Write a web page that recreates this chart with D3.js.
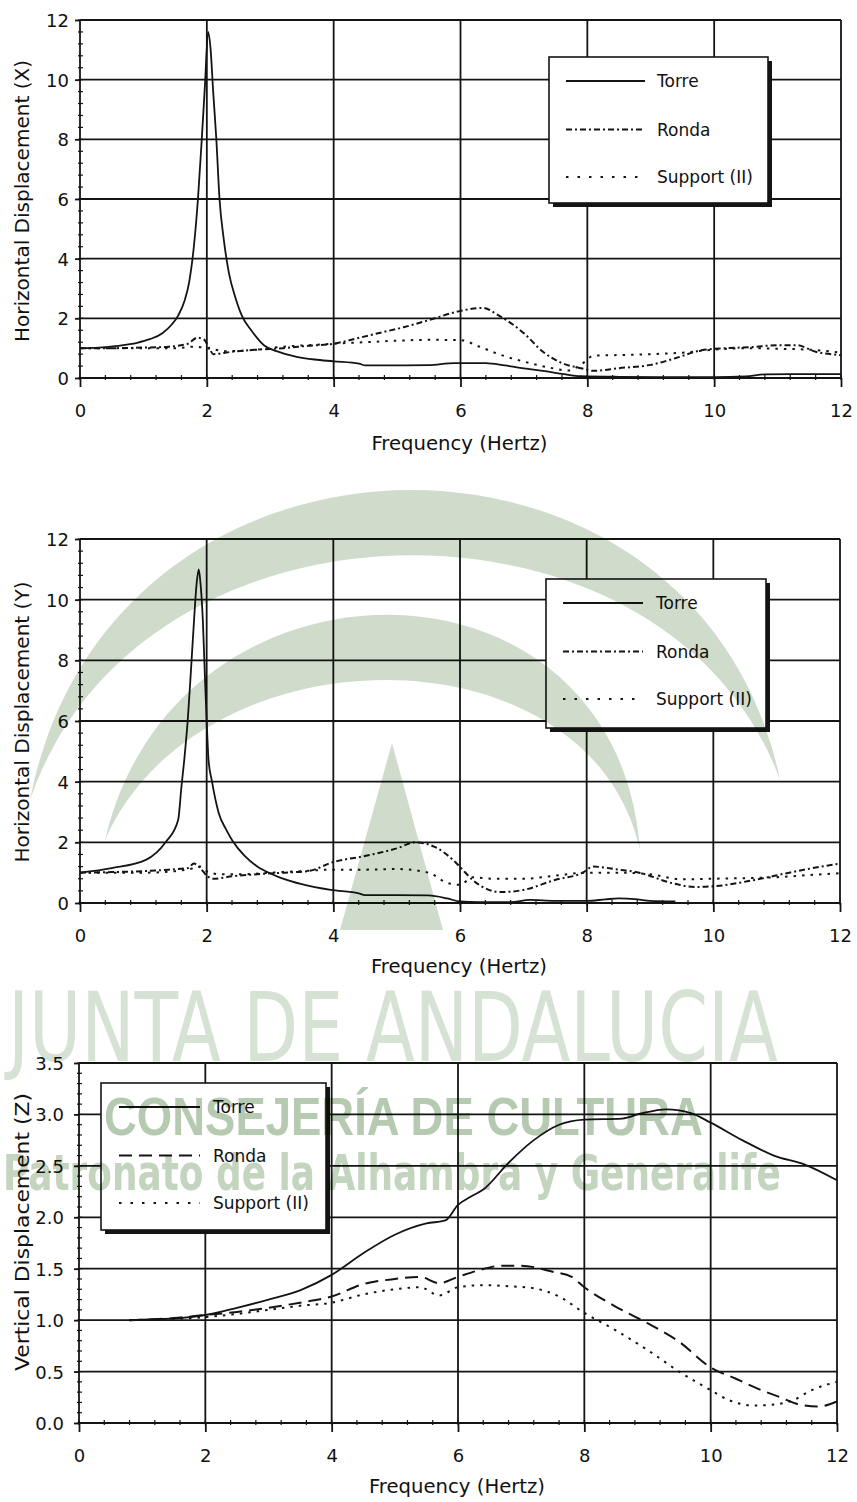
<!DOCTYPE html>
<html>
<head>
<meta charset="utf-8">
<script src="https://cdn.jsdelivr.net/npm/d3@7"></script>
<style>
  html, body { margin: 0; padding: 0; background: #fff; }
  svg { display: block; }
  text { font-family: "DejaVu Sans", "Liberation Sans", sans-serif; fill: #111; }
</style>
</head>
<body>
<svg id="fig" width="857" height="1502"></svg>
<script>
// ---- Frequency response, horizontal X direction ----
const xTorreHz   = [0, 0.3, 0.6, 0.9, 1.1, 1.3, 1.45, 1.55, 1.65, 1.72, 1.8, 1.86, 1.92, 1.97, 2.02, 2.06, 2.1, 2.15, 2.2, 2.27, 2.35, 2.45, 2.55, 2.7, 2.9, 3.1, 3.4, 3.7, 4.0, 4.4, 4.5, 5.0, 5.5, 5.9, 6.4, 6.7, 7.0, 7.3, 7.6, 7.9, 8.5, 9.5, 10.0, 10.5, 10.8, 11.2, 12.0];
const xTorreAmp  = [1.0, 1.02, 1.08, 1.18, 1.3, 1.5, 1.8, 2.1, 2.6, 3.2, 4.5, 6.0, 8.0, 9.8, 11.6, 11.0, 9.6, 8.0, 6.0, 4.6, 3.5, 2.7, 2.1, 1.6, 1.1, 0.9, 0.72, 0.62, 0.56, 0.48, 0.42, 0.42, 0.43, 0.5, 0.5, 0.42, 0.32, 0.24, 0.14, 0.06, 0.04, 0.03, 0.03, 0.05, 0.12, 0.13, 0.13];
const xRondaHz   = [0, 0.5, 1.0, 1.4, 1.7, 1.85, 1.95, 2.05, 2.1, 2.4, 2.8, 3.2, 3.6, 4.0, 4.35, 4.7, 5.1, 5.5, 6.0, 6.35, 6.6, 7.0, 7.3, 7.6, 7.9, 8.1, 8.5, 9.0, 9.4, 9.8, 10.2, 10.6, 11.0, 11.3, 11.6, 12.0];
const xRondaAmp  = [1.0, 1.0, 1.02, 1.05, 1.15, 1.35, 1.3, 0.95, 0.8, 0.88, 0.95, 1.0, 1.08, 1.15, 1.32, 1.5, 1.7, 1.94, 2.25, 2.35, 2.1, 1.5, 0.88, 0.5, 0.33, 0.24, 0.33, 0.44, 0.67, 0.93, 1.0, 1.04, 1.1, 1.1, 0.88, 0.77];
const xSupportHz  = [0, 0.5, 1.0, 1.5, 1.8, 2.0, 2.3, 2.8, 3.2, 3.6, 4.0, 4.5, 5.0, 5.5, 6.0, 6.3, 6.6, 7.0, 7.4, 7.7, 7.9, 8.1, 8.5, 9.0, 9.5, 10.0, 10.5, 11.0, 11.5, 12.0];
const xSupportAmp = [1.0, 1.0, 1.0, 1.0, 1.05, 1.0, 0.9, 0.95, 1.05, 1.1, 1.15, 1.2, 1.25, 1.28, 1.27, 1.05, 0.8, 0.55, 0.35, 0.25, 0.45, 0.75, 0.77, 0.8, 0.85, 0.95, 1.0, 0.98, 0.95, 0.85];

// ---- Frequency response, horizontal Y direction ----
const yTorreHz   = [0, 0.5, 1.04, 1.35, 1.55, 1.6, 1.65, 1.7, 1.75, 1.8, 1.84, 1.875, 1.9, 1.94, 1.97, 2.0, 2.03, 2.08, 2.19, 2.3, 2.4, 2.6, 2.81, 3.0, 3.18, 3.5, 3.96, 4.4, 4.5, 5.0, 5.5, 5.8, 6.0, 6.3, 6.8, 7.1, 7.5, 8.0, 8.3, 8.5, 8.8, 9.0, 9.4];
const yTorreAmp  = [1.0, 1.15, 1.42, 2.0, 2.74, 3.8, 4.8, 6.0, 7.6, 9.3, 10.5, 11.0, 10.6, 9.3, 7.6, 6.0, 4.7, 4.05, 2.97, 2.45, 2.08, 1.55, 1.19, 0.98, 0.82, 0.62, 0.43, 0.32, 0.26, 0.26, 0.25, 0.15, 0.05, 0.03, 0.03, 0.1, 0.07, 0.07, 0.12, 0.15, 0.12, 0.07, 0.05];
const yRondaHz   = [0, 0.5, 1.0, 1.4, 1.7, 1.8, 1.9, 2.0, 2.1, 2.4, 2.8, 3.2, 3.6, 4.0, 4.5, 5.0, 5.3, 5.6, 5.9, 6.0, 6.2, 6.64, 7.0, 7.5, 7.94, 8.1, 8.5, 8.83, 9.34, 9.7, 10.0, 10.65, 11.2, 11.7, 12.0];
const yRondaAmp  = [1.0, 1.02, 1.05, 1.1, 1.15, 1.3, 1.15, 0.9, 0.8, 0.88, 0.95, 1.0, 1.05, 1.35, 1.55, 1.8, 2.0, 1.85, 1.4, 1.19, 0.76, 0.36, 0.43, 0.76, 1.0, 1.2, 1.1, 1.0, 0.66, 0.53, 0.55, 0.76, 1.0, 1.2, 1.3];
const ySupportHz  = [0, 0.5, 1.0, 1.5, 1.8, 1.9, 2.0, 2.2, 2.6, 3.0, 3.5, 4.0, 4.5, 5.0, 5.5, 5.8, 6.0, 6.2, 6.5, 7.0, 7.5, 8.0, 8.5, 9.0, 9.5, 10.0, 10.5, 11.0, 11.5, 12.0];
const ySupportAmp = [1.0, 1.0, 1.0, 1.05, 1.15, 1.2, 1.05, 0.95, 0.95, 1.0, 1.05, 1.1, 1.1, 1.12, 1.0, 0.66, 0.6, 0.85, 0.8, 0.8, 0.9, 1.0, 1.0, 0.95, 0.78, 0.8, 0.82, 0.85, 0.92, 0.98];

// ---- Frequency response, vertical Z direction ----
const zTorreHz   = [0.8, 1.2, 1.6, 2.0, 2.5, 3.0, 3.5, 4.0, 4.5, 5.0, 5.5, 5.8, 6.0, 6.2, 6.4, 6.8, 7.2, 7.6, 8.0, 8.6, 8.9, 9.3, 9.7, 10.0, 10.5, 11.0, 11.5, 12.0];
const zTorreAmp  = [1.0, 1.01, 1.02, 1.05, 1.12, 1.2, 1.29, 1.44, 1.65, 1.83, 1.94, 1.97, 2.12, 2.2, 2.27, 2.53, 2.75, 2.9, 2.95, 2.96, 3.01, 3.05, 3.01, 2.92, 2.75, 2.6, 2.51, 2.36];
const zRondaHz   = [0.8, 1.5, 2.0, 2.5, 3.0, 3.5, 4.0, 4.5, 5.0, 5.4, 5.7, 6.0, 6.3, 6.7, 7.0, 7.5, 7.8, 8.0, 8.5, 9.0, 9.5, 10.0, 10.4, 10.8, 11.1, 11.4, 11.7, 12.0];
const zRondaAmp  = [1.0, 1.02, 1.05, 1.08, 1.12, 1.17, 1.23, 1.35, 1.4, 1.42, 1.36, 1.42, 1.48, 1.53, 1.53, 1.47, 1.42, 1.32, 1.13, 0.97, 0.79, 0.54, 0.43, 0.32, 0.25, 0.18, 0.16, 0.21];
const zSupportHz  = [0.8, 1.5, 2.0, 2.5, 3.0, 3.5, 4.0, 4.5, 5.0, 5.4, 5.7, 6.0, 6.4, 6.8, 7.2, 7.6, 8.0, 8.5, 9.0, 9.5, 10.0, 10.3, 10.7, 11.0, 11.3, 11.6, 12.0];
const zSupportAmp = [1.0, 1.01, 1.03, 1.06, 1.1, 1.14, 1.17, 1.25, 1.3, 1.32, 1.24, 1.32, 1.34, 1.33, 1.31, 1.23, 1.07, 0.9, 0.71, 0.5, 0.32, 0.22, 0.17, 0.18, 0.22, 0.32, 0.4];

// ---- Axis ticks and labels ----
const hzTicks = [0, 2, 4, 6, 8, 10, 12];
const horizTicks = [0, 2, 4, 6, 8, 10, 12];
const vertTicks = [0, 0.5, 1.0, 1.5, 2.0, 2.5, 3.0, 3.5];
const vertTickLabels = ["0.0", "0.5", "1.0", "1.5", "2.0", "2.5", "3.0", "3.5"];
const seriesNames = ["Torre", "Ronda", "Support (II)"];
const freqTitle = "Frequency (Hertz)";
const panelTitles = ["Horizontal Displacement (X)", "Horizontal Displacement (Y)", "Vertical Displacement (Z)"];

// ---- Background emblem text ----
const emblemLines = ["JUNTA DE ANDALUCIA", "CONSEJERÍA DE CULTURA", "Patronato de la Alhambra y Generalife"];

const svg = d3.select("#fig");
svg.append("rect").attr("width", 857).attr("height", 1502).attr("fill", "#fff");

const INK = "#141414";

const panels = [
  { left: 80, right: 841, top: 20, bottom: 378, yMax: 12, ticks: horizTicks, fmt: d => String(d),
    labelGap: 11, title: panelTitles[0], titleY: 201, titleLen: 282, xTitleOff: 72,
    minorY: 0.4, rondaDash: "6,3,2,3",
    series: [[xTorreHz, xTorreAmp], [xRondaHz, xRondaAmp], [xSupportHz, xSupportAmp]],
    legend: { x: 549, y: 57, w: 219, h: 146, l0: 17, l1: 96, tx: 108 } },
  { left: 80, right: 840, top: 539, bottom: 903, yMax: 12, ticks: horizTicks, fmt: d => String(d),
    labelGap: 11, title: panelTitles[1], titleY: 722, titleLen: 281, xTitleOff: 70,
    minorY: 0.4, rondaDash: "6,3,2,3",
    series: [[yTorreHz, yTorreAmp], [yRondaHz, yRondaAmp], [ySupportHz, ySupportAmp]],
    legend: { x: 546, y: 579, w: 220, h: 149, l0: 17, l1: 97, tx: 110 } },
  { left: 79, right: 837, top: 1063, bottom: 1423, yMax: 3.5, ticks: vertTicks, fmt: (d, i) => vertTickLabels[i],
    labelGap: 15, title: panelTitles[2], titleY: 1232, titleLen: 278, xTitleOff: 70,
    minorY: 0.1, rondaDash: "13,7",
    series: [[zTorreHz, zTorreAmp], [zRondaHz, zRondaAmp], [zSupportHz, zSupportAmp]],
    legend: { x: 101, y: 1083, w: 225, h: 147, l0: 18, l1: 99, tx: 112 } }
];

function drawPanel(p) {
  const g = svg.append("g");
  const x = d3.scaleLinear().domain([0, 12]).range([p.left, p.right]);
  const y = d3.scaleLinear().domain([0, p.yMax]).range([p.bottom, p.top]);

  // grid: vertical at each frequency tick, horizontal at each displacement tick
  g.append("g").selectAll("line").data(hzTicks).join("line")
    .attr("x1", d => x(d)).attr("x2", d => x(d))
    .attr("y1", p.top).attr("y2", p.bottom)
    .attr("stroke", INK).attr("stroke-width", 1.8);
  g.append("g").selectAll("line").data(p.ticks).join("line")
    .attr("x1", p.left).attr("x2", p.right)
    .attr("y1", d => y(d)).attr("y2", d => y(d))
    .attr("stroke", INK).attr("stroke-width", 1.8);

  // minor ticks along the left and bottom axes
  const minorHz = d3.range(0, 12.0001, 0.4);
  g.append("g").selectAll("line").data(minorHz).join("line")
    .attr("x1", d => x(d)).attr("x2", d => x(d))
    .attr("y1", p.bottom - 3).attr("y2", p.bottom + 2)
    .attr("stroke", INK).attr("stroke-width", 1.2);
  const minorDisp = d3.range(0, p.yMax + 1e-6, p.minorY);
  g.append("g").selectAll("line").data(minorDisp).join("line")
    .attr("x1", p.left - 2).attr("x2", p.left + 3)
    .attr("y1", d => y(d)).attr("y2", d => y(d))
    .attr("stroke", INK).attr("stroke-width", 1.2);

  // bottom axis: outward ticks and labels
  const ax = g.append("g").attr("transform", `translate(0,${p.bottom})`)
    .call(d3.axisBottom(x).tickValues(hzTicks).tickSize(9).tickSizeOuter(0));
  ax.select(".domain").remove();
  ax.selectAll(".tick line").attr("stroke", INK).attr("stroke-width", 1.8);
  ax.selectAll(".tick text").attr("y", 39).attr("dy", null)
    .attr("font-size", 18).attr("fill", INK)
    .style("font-family", '"DejaVu Sans", sans-serif');

  // left axis
  const ay = g.append("g").attr("transform", `translate(${p.left},0)`)
    .call(d3.axisLeft(y).tickValues(p.ticks).tickFormat(p.fmt).tickSize(5).tickSizeOuter(0));
  ay.select(".domain").remove();
  ay.selectAll(".tick line").attr("stroke", INK).attr("stroke-width", 1.8);
  ay.selectAll(".tick text").attr("x", -p.labelGap).attr("dy", "0.36em")
    .attr("font-size", 18).attr("fill", INK)
    .style("font-family", '"DejaVu Sans", sans-serif');

  // axis titles
  g.append("text")
    .attr("x", (p.left + p.right) / 2 - 1).attr("y", p.bottom + p.xTitleOff)
    .attr("text-anchor", "middle").attr("font-size", 19)
    .attr("textLength", 176).attr("lengthAdjust", "spacingAndGlyphs")
    .text(freqTitle);
  g.append("text")
    .attr("transform", `translate(29,${p.titleY}) rotate(-90)`)
    .attr("text-anchor", "middle").attr("font-size", 19)
    .attr("textLength", p.titleLen).attr("lengthAdjust", "spacingAndGlyphs")
    .text(p.title);

  // response curves
  const dashes = [null, p.rondaDash, "2.5,6"];
  const line = d3.line().x(d => x(d[0])).y(d => y(d[1])).curve(d3.curveMonotoneX);
  p.series.forEach((s, i) => {
    const pts = s[0].map((hz, k) => [hz, s[1][k]]);
    g.append("path").datum(pts)
      .attr("d", line)
      .attr("fill", "none")
      .attr("stroke", INK)
      .attr("stroke-width", i === 0 ? 1.8 : 2)
      .attr("stroke-linejoin", "round")
      .attr("stroke-dasharray", dashes[i]);
  });

  // legend box with drop shadow
  const L = p.legend;
  const lg = g.append("g").attr("transform", `translate(${L.x},${L.y})`);
  lg.append("rect").attr("x", 4).attr("y", 4).attr("width", L.w).attr("height", L.h).attr("fill", INK);
  lg.append("rect").attr("width", L.w).attr("height", L.h)
    .attr("fill", "#fff").attr("stroke", INK).attr("stroke-width", 1.6);
  const rowY = [24, 72.5, 120];
  seriesNames.forEach((name, i) => {
    lg.append("line").attr("x1", L.l0).attr("x2", L.l1)
      .attr("y1", rowY[i]).attr("y2", rowY[i])
      .attr("stroke", INK).attr("stroke-width", i === 0 ? 1.8 : 2)
      .attr("stroke-dasharray", i === 2 ? "2.5,9" : dashes[i]);
    lg.append("text").attr("x", L.tx).attr("y", rowY[i]).attr("dy", "0.36em")
      .attr("font-size", 17).text(name);
  });
}

panels.forEach(drawPanel);

// ---- Emblem printed across the page (multiplied over the figure) ----
const wm = svg.append("g").style("mix-blend-mode", "multiply");
const arcGreen = "#d0dccb";
// outer crescent
wm.append("path")
  .attr("d", "M30,800 C110,390 700,390 780,780 C670,477 140,477 30,800 Z")
  .attr("fill", arcGreen);
// inner crescent
wm.append("path")
  .attr("d", "M105,840 C175,538 617,538 640,850 C590,625 200,625 105,840 Z")
  .attr("fill", arcGreen);
// central spire
wm.append("path")
  .attr("d", "M392,743 L443,930 L340,930 Z")
  .attr("fill", arcGreen);

// each emblem line is set at its natural width, then scaled to span its band
function emblemText(str, x0, baseline, width, size, weight, family, fill, stretchY) {
  const t = wm.append("text")
    .attr("x", 0).attr("y", 0)
    .attr("font-size", size).attr("font-weight", weight)
    .style("font-family", family)
    .style("fill", fill)
    .text(str);
  const natural = t.node().getComputedTextLength();
  t.attr("transform", `translate(${x0},${baseline}) scale(${width / natural},${stretchY})`);
}
emblemText(emblemLines[0], 8, 1061, 770, 76, "normal",
  '"DejaVu Sans Condensed", "Liberation Sans Narrow", "Liberation Sans", sans-serif', "#d6e2d3", 1.26);
emblemText(emblemLines[1], 104, 1135, 599, 44, "bold",
  '"Liberation Sans", "DejaVu Sans", sans-serif', "#b5cab0", 1.2);
emblemText(emblemLines[2], 3, 1190, 778, 40, "bold",
  '"DejaVu Sans Condensed", "Liberation Sans Narrow", "Liberation Sans", sans-serif', "#c3d4bf", 1.25);
</script>
</body>
</html>
